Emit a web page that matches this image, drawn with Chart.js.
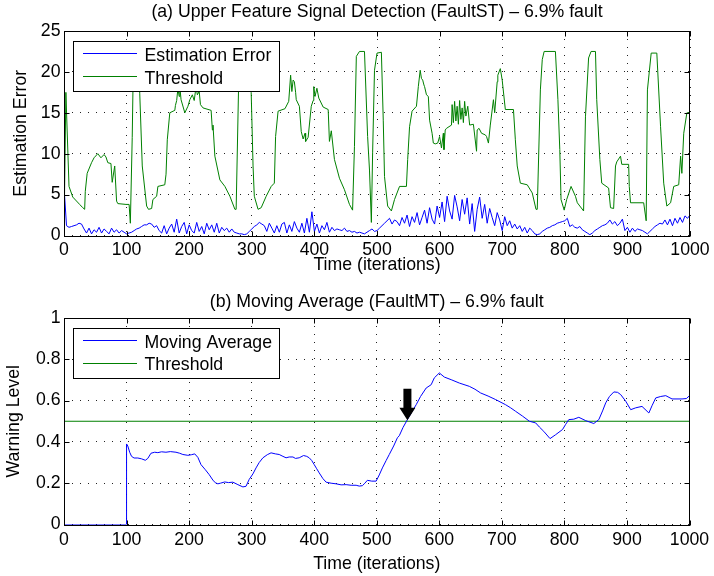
<!DOCTYPE html>
<html>
<head>
<meta charset="utf-8">
<title>FaultST / FaultMT detection</title>
<script src="https://cdn.jsdelivr.net/npm/chart.js@4.4.1/dist/chart.umd.min.js"></script>
<style>
    html, body { margin: 0; padding: 0; background: #fff; }
    #wrap { position: relative; width: 714px; height: 576px; }
    canvas { position: absolute; left: 0; }
    #errorChart { top: 0; width: 714px; height: 290px; }
    #warningChart { top: 290px; width: 714px; height: 286px; }
</style>
</head>
<body>
<div id="wrap">
    <canvas id="errorChart" width="714" height="290"></canvas>
    <canvas id="warningChart" width="714" height="286"></canvas>
</div>
<script>
// Tick labels
const timeTicks = [0, 100, 200, 300, 400, 500, 600, 700, 800, 900, 1000];
const errorTicks = [0, 5, 10, 15, 20, 25];
const warningTicks = [0, 0.2, 0.4, 0.6, 0.8, 1];

// (a) estimation error, read every 4 iterations
const errorStep = 4;
const errorValues = [
    6.0, 1.2, 1.0, 1.1, 1.2, 1.3, 1.5, 1.4, 0.8, 0.3,
    0.9, 0.2, 0.7, 0.4, 1.0, 0.3, 0.8, 0.5, 0.2, 0.9,
    0.4, 0.7, 0.3, 0.6, 0.4, 0.2, 0.3, 0.4, 0.6, 0.8,
    0.9, 1.1, 1.3, 1.3, 1.5, 1.4, 1.0, 1.2, 0.6, 0.3,
    1.2, 0.2, 0.9, 1.4, 0.4, 2.0, 0.3, 1.1, 1.6, 0.2,
    1.3, 0.6, 0.3, 1.6, 0.5, 1.1, 0.2, 1.5, 0.7, 1.3,
    0.4, 1.5, 0.3, 1.0, 0.6, 0.9, 0.4, 0.8, 0.4, 0.3,
    0.2, 0.2, 0.1, 0.2, 0.5, 0.8, 1.1, 1.3, 1.6, 1.4,
    1.2, 0.5, 1.5, 0.9, 0.3, 1.2, 0.4, 1.4, 1.6, 0.3,
    1.3, 0.5, 1.7, 0.9, 0.4, 1.5, 0.3, 2.1, 0.4, 2.9,
    0.5, 1.4, 0.3, 1.2, 0.7, 1.6, 0.4, 1.0, 0.6, 0.8,
    0.7, 0.6, 0.9, 0.5, 0.6, 0.4, 0.5, 0.3, 0.4, 0.3,
    0.2, 0.4, 0.6, 0.8, 0.5, 0.6, 0.9, 1.2, 1.5, 1.8,
    2.1, 1.4, 1.9, 1.7, 1.2, 2.2, 1.5, 2.5, 1.1, 2.3,
    1.6, 2.8, 1.3, 2.2, 3.1, 1.5, 3.4, 2.0, 1.4, 3.6,
    2.2, 4.1, 1.7, 4.8, 3.0, 2.0, 4.9, 3.5, 1.8, 4.4,
    2.6, 4.6, 1.4, 3.9, 0.5, 3.2, 4.7, 2.1, 3.8, 1.5,
    3.3, 2.2, 1.2, 2.8, 1.9, 0.6, 2.3, 1.2, 1.8, 0.9,
    1.4, 0.8, 1.2, 0.5, 1.0, 0.3, 0.9, 0.6, 0.2, 0.1,
    0.2, 0.5, 0.7, 0.9, 1.0, 1.2, 1.3, 1.5, 1.6, 1.7,
    1.8, 2.1, 1.1, 1.3, 1.0, 0.9, 1.1, 0.7, 0.5, 0.3,
    0.1, 0.3, 0.6, 0.8, 1.0, 1.2, 1.3, 1.5, 1.9, 1.4,
    1.7, 1.2, 1.5, 2.0, 0.6, 1.0, 0.4, 0.9, 0.5, 0.8,
    0.7, 0.6, 0.4, 0.2, 0.5, 0.8, 1.1, 1.3, 1.5, 1.4,
    1.9, 1.3, 2.0, 1.2, 2.1, 1.5, 2.2, 1.6, 2.4, 2.1,
    2.5
];

// (a) threshold, [iteration, value] read at the corners of the trace
const thresholdPoints = [
    [0, 0], [3, 17.5], [8, 6.0], [14, 4.7], [25, 3.8], [30, 3.4], [33, 3.2], [34, 5.4], [37, 7.6], [44, 8.9],
    [48, 9.5], [54, 10.0], [59, 9.5], [64, 9.9], [67, 9.6], [70, 8.9], [75, 8.8], [77, 6.5], [81, 8.5], [84, 4.2],
    [86, 3.9], [99, 3.8], [104, 3.8], [106, 1.5], [109, 12.0], [111, 22.2], [119, 22.2], [121, 17.4], [125, 8.5], [132, 3.6],
    [135, 3.2], [140, 3.3], [142, 4.4], [148, 4.8], [150, 6.0], [161, 6.2], [163, 7.5], [165, 11.7], [169, 15.0], [177, 15.3],
    [178, 15.9], [180, 16.5], [182, 18.0], [184, 17.0], [185, 18.2], [187, 16.6], [193, 15.0], [198, 15.8], [201, 16.6], [205, 17.2],
    [208, 16.5], [211, 18.2], [213, 17.2], [216, 17.6], [218, 16.0], [222, 15.6], [235, 15.3], [237, 12.9], [238, 13.5], [241, 9.7],
    [249, 6.8], [257, 6.0], [265, 4.8], [273, 3.2], [275, 3.2], [279, 18.6], [283, 22.2], [297, 22.2], [299, 17.5], [302, 8.5],
    [304, 4.8], [310, 3.2], [315, 3.4], [323, 4.8], [331, 6.0], [336, 6.4], [338, 12.1], [342, 15.2], [353, 15.5], [359, 16.4],
    [362, 19.6], [364, 17.6], [366, 19.0], [368, 18.8], [370, 17.5], [371, 16.6], [376, 15.8], [379, 12.7], [382, 11.8], [385, 12.5],
    [386, 11.5], [390, 12.0], [395, 15.8], [398, 16.5], [399, 18.2], [401, 17.0], [404, 18.0], [407, 16.8], [414, 15.7], [422, 15.4],
    [424, 11.5], [427, 12.8], [432, 9.3], [440, 7.0], [448, 5.6], [456, 3.8], [461, 3.1], [464, 10.9], [467, 21.9], [472, 22.5],
    [480, 22.5], [485, 12.1], [488, 8.0], [491, 1.6], [493, 10.1], [496, 20.2], [500, 22.3], [507, 22.4], [510, 14.1], [512, 7.2],
    [517, 3.6], [523, 3.0], [528, 4.4], [536, 6.0], [547, 6.0], [549, 9.3], [552, 13.3], [556, 15.2], [563, 15.8], [566, 18.2],
    [569, 20.2], [571, 19.2], [573, 19.0], [575, 18.4], [576, 18.2], [579, 17.2], [582, 17.0], [584, 14.1], [588, 12.5], [590, 11.3],
    [593, 11.2], [597, 11.3], [600, 12.1], [603, 10.7], [606, 12.5], [607, 10.5], [609, 12.9], [611, 13.1], [619, 13.5], [620, 16.0],
    [622, 13.8], [624, 16.4], [626, 14.0], [628, 15.8], [630, 13.6], [632, 16.5], [634, 14.2], [636, 15.6], [638, 13.8], [640, 16.4],
    [642, 14.6], [645, 15.8], [648, 13.5], [654, 13.6], [659, 10.3], [660, 12.9], [663, 13.1], [667, 12.5], [673, 12.3], [675, 12.1],
    [678, 11.3], [681, 13.5], [686, 16.6], [688, 15.0], [692, 18.8], [693, 19.6], [697, 20.4], [700, 19.0], [705, 15.4], [718, 15.4],
    [721, 11.7], [724, 8.5], [729, 6.4], [740, 6.2], [748, 5.2], [754, 3.2], [756, 3.2], [761, 17.8], [764, 21.5], [767, 22.5],
    [785, 22.5], [789, 16.6], [792, 10.5], [794, 4.4], [799, 3.1], [803, 4.4], [810, 6.0], [817, 4.8], [820, 4.0], [830, 3.0],
    [833, 14.5], [838, 21.7], [842, 22.5], [849, 22.5], [851, 16.6], [856, 9.3], [859, 6.4], [870, 5.8], [873, 3.4], [878, 3.3],
    [881, 8.5], [883, 9.0], [889, 9.7], [891, 8.7], [902, 8.7], [903, 6.0], [905, 4.0], [926, 4.0], [930, 1.8], [932, 17.8],
    [938, 22.3], [947, 22.3], [953, 13.3], [958, 6.4], [963, 3.6], [969, 4.0], [974, 6.0], [982, 6.2], [985, 9.7], [987, 7.6],
    [990, 12.5], [995, 15.0], [1000, 15.0]
];

// (b) moving average, [iteration, level]
const movingPoints = [
    [0, 0], [99.5, 0], [100, 0.39], [102, 0.38], [105, 0.35], [108, 0.33], [112, 0.322], [118, 0.322], [124, 0.318], [130, 0.311],
    [134, 0.32], [139, 0.345], [145, 0.35], [150, 0.348], [156, 0.352], [163, 0.35], [170, 0.353], [179, 0.35], [185, 0.345], [190, 0.339],
    [198, 0.335], [204, 0.338], [209, 0.342], [214, 0.325], [219, 0.29], [226, 0.265], [232, 0.242], [238, 0.215], [242, 0.202], [246, 0.197],
    [250, 0.2], [257, 0.206], [263, 0.203], [270, 0.205], [278, 0.193], [286, 0.182], [291, 0.185], [296, 0.218], [302, 0.245], [307, 0.274],
    [312, 0.3], [318, 0.323], [325, 0.338], [331, 0.347], [338, 0.342], [344, 0.339], [350, 0.33], [355, 0.323], [360, 0.327], [366, 0.327],
    [370, 0.32], [376, 0.323], [383, 0.334], [388, 0.33], [392, 0.323], [396, 0.31], [400, 0.29], [404, 0.27], [408, 0.25], [414, 0.222],
    [419, 0.205], [427, 0.2], [435, 0.197], [443, 0.192], [451, 0.193], [459, 0.19], [467, 0.19], [472, 0.186], [477, 0.188], [481, 0.2],
    [485, 0.214], [492, 0.21], [499, 0.21], [504, 0.24], [509, 0.274], [515, 0.31], [520, 0.339], [527, 0.38], [533, 0.42], [536, 0.43],
    [542, 0.47], [549, 0.508], [556, 0.545], [563, 0.58], [570, 0.62], [579, 0.661], [587, 0.677], [592, 0.71], [600, 0.734], [608, 0.714],
    [620, 0.7], [632, 0.685], [648, 0.669], [657, 0.655], [666, 0.637], [678, 0.622], [690, 0.605], [706, 0.58], [714, 0.565], [722, 0.548],
    [733, 0.525], [744, 0.5], [754, 0.492], [760, 0.472], [767, 0.451], [777, 0.416], [786, 0.435], [797, 0.46], [802, 0.485], [807, 0.508],
    [815, 0.51], [823, 0.519], [834, 0.503], [847, 0.489], [855, 0.508], [861, 0.55], [866, 0.589], [872, 0.62], [879, 0.642], [885, 0.64],
    [890, 0.629], [898, 0.597], [906, 0.556], [914, 0.565], [924, 0.572], [935, 0.54], [940, 0.575], [946, 0.613], [954, 0.62], [962, 0.624],
    [972, 0.608], [988, 0.608], [995, 0.61], [1000, 0.624]
];
const warningThreshold = 0.5;

// black arrow where the moving average first crosses the threshold
const arrowAt = 549;
const arrowTop = 0.657;
const arrowNeck = 0.565;
const arrowTip = 0.505;

const FONT = '"Liberation Sans", Arial, Helvetica, sans-serif';
const SIZE = 17.7;
Chart.defaults.font.family = FONT;
Chart.defaults.font.size = SIZE;
Chart.defaults.color = '#000';

function toXY(pairs) {
    return pairs.map(p => ({ x: p[0], y: p[1] }));
}

// frame round the plot with inward ticks, matlab style
const frame = {
    id: 'frame',
    afterDatasetsDraw(chart) {
        const ctx = chart.ctx;
        const a = chart.chartArea;
        const xs = chart.scales.x, ys = chart.scales.y;
        const L = Math.round(a.left) + 0.5, R = Math.round(a.right) - 0.5;
        const T = Math.round(a.top) + 0.5, B = Math.round(a.bottom) + 0.5;
        ctx.save();
        ctx.setLineDash([]);
        ctx.strokeStyle = '#000';
        ctx.lineWidth = 1;
        ctx.beginPath();
        xs.ticks.forEach(t => {
            const p = Math.round(xs.getPixelForValue(t.value)) + 0.5;
            ctx.moveTo(p, B); ctx.lineTo(p, B - 5);
            ctx.moveTo(p, T); ctx.lineTo(p, T + 5);
        });
        ys.ticks.forEach(t => {
            const p = Math.round(ys.getPixelForValue(t.value)) + 0.5;
            ctx.moveTo(L, p); ctx.lineTo(L + 5, p);
            ctx.moveTo(R, p); ctx.lineTo(R - 5, p);
        });
        ctx.stroke();
        ctx.strokeRect(L, T, R - L, B - T);
        ctx.restore();
    }
};

// boxed legend inside the plot
const boxLegend = {
    id: 'boxLegend',
    afterDraw(chart, args, opts) {
        const ctx = chart.ctx;
        ctx.save();
        ctx.fillStyle = '#fff';
        ctx.fillRect(opts.left, opts.top, opts.width, opts.height);
        ctx.strokeStyle = '#000';
        ctx.lineWidth = 1;
        ctx.strokeRect(opts.left + 0.5, opts.top + 0.5, opts.width, opts.height);
        ctx.font = SIZE + 'px ' + FONT;
        ctx.textBaseline = 'middle';
        chart.data.datasets.forEach((ds, i) => {
            const y = opts.top + opts.rows[i];
            ctx.strokeStyle = ds.borderColor;
            ctx.beginPath();
            ctx.moveTo(opts.left + 10, Math.round(y) + 0.5);
            ctx.lineTo(opts.left + 64, Math.round(y) + 0.5);
            ctx.stroke();
            ctx.fillStyle = '#000';
            ctx.fillText(ds.label, opts.left + 71.5, y + 2.8);
        });
        ctx.restore();
    }
};

const arrowMark = {
    id: 'arrowMark',
    afterDatasetsDraw(chart) {
        const ctx = chart.ctx;
        const cx = chart.scales.x.getPixelForValue(arrowAt);
        const yTop = chart.scales.y.getPixelForValue(arrowTop);
        const yNeck = chart.scales.y.getPixelForValue(arrowNeck);
        const yTip = chart.scales.y.getPixelForValue(arrowTip);
        ctx.save();
        ctx.fillStyle = '#000';
        ctx.beginPath();
        ctx.moveTo(cx - 4, yTop);
        ctx.lineTo(cx + 4, yTop);
        ctx.lineTo(cx + 4, yNeck);
        ctx.lineTo(cx + 8, yNeck);
        ctx.lineTo(cx, yTip);
        ctx.lineTo(cx - 8, yNeck);
        ctx.lineTo(cx - 4, yNeck);
        ctx.closePath();
        ctx.fill();
        ctx.restore();
    }
};

function timeAxis(height, tickPad, titlePad) {
    return {
        type: 'linear',
        min: 0,
        max: 1000,
        afterBuildTicks: s => { s.ticks = timeTicks.map(v => ({ value: v })); },
        afterFit: s => { s.height = height; },
        ticks: { padding: tickPad, maxRotation: 0, autoSkip: false, callback: v => String(v) },
        grid: { color: '#222', lineWidth: 1, drawTicks: false },
        border: { display: false, dash: [1, 7] },
        title: { display: true, text: 'Time (iterations)', padding: { top: 0, bottom: titlePad } }
    };
}

function valueAxis(tickList, label, titlePad) {
    return {
        type: 'linear',
        min: tickList[0],
        max: tickList[tickList.length - 1],
        afterBuildTicks: s => { s.ticks = tickList.map(v => ({ value: v })); },
        afterFit: s => { s.width = 64; },
        ticks: { padding: 3.5, callback: v => String(v) },
        grid: { color: '#222', lineWidth: 1, drawTicks: false },
        border: { display: false, dash: [1, 7] },
        title: { display: true, text: label, padding: { top: titlePad, bottom: 0 } }
    };
}

function lineSet(label, points, color, order) {
    return {
        label: label,
        data: points,
        borderColor: color,
        backgroundColor: color,
        borderWidth: 1,
        pointRadius: 0,
        tension: 0,
        fill: false,
        order: order
    };
}

// (a) Upper feature signal detection
new Chart(document.getElementById('errorChart'), {
    type: 'line',
    data: {
        datasets: [
            lineSet('Estimation Error', errorValues.map((v, i) => ({ x: i * errorStep, y: v })), '#0000ff', 1),
            lineSet('Threshold', toXY(thresholdPoints), '#008000', 0)
        ]
    },
    options: {
        responsive: false,
        animation: false,
        devicePixelRatio: 1,
        layout: { padding: { left: 0, right: 24, top: 0, bottom: 0 } },
        plugins: {
            legend: { display: false },
            tooltip: { enabled: false },
            title: {
                display: true,
                fullSize: false,
                text: '(a) Upper Feature Signal Detection (FaultST) – 6.9% fault',
                font: { size: SIZE, weight: 'normal' },
                padding: { top: 1.8, bottom: 7.96 }
            },
            boxLegend: { left: 73, top: 41, width: 206, height: 50, rows: [12.3, 35] }
        },
        scales: {
            x: timeAxis(54.5, 3.8, 14),
            y: valueAxis(errorTicks, 'Estimation Error', 10.3)
        }
    },
    plugins: [frame, boxLegend]
});

// (b) Moving average warning level
new Chart(document.getElementById('warningChart'), {
    type: 'line',
    data: {
        datasets: [
            lineSet('Moving Average', toXY(movingPoints), '#0000ff', 0),
            lineSet('Threshold', [{ x: 0, y: warningThreshold }, { x: 1000, y: warningThreshold }], '#008000', 1)
        ]
    },
    options: {
        responsive: false,
        animation: false,
        devicePixelRatio: 1,
        layout: { padding: { left: 0, right: 24, top: 0, bottom: 0 } },
        plugins: {
            legend: { display: false },
            tooltip: { enabled: false },
            title: {
                display: true,
                fullSize: false,
                text: '(b) Moving Average (FaultMT) – 6.9% fault',
                font: { size: SIZE, weight: 'normal' },
                padding: { top: 1.6, bottom: 5.16 }
            },
            boxLegend: { left: 73, top: 38, width: 206, height: 50, rows: [12, 34.7] }
        },
        scales: {
            x: timeAxis(51.5, 4.8, 1.7),
            y: valueAxis(warningTicks, 'Warning Level', 3.6)
        }
    },
    plugins: [frame, arrowMark, boxLegend]
});
</script>
</body>
</html>
